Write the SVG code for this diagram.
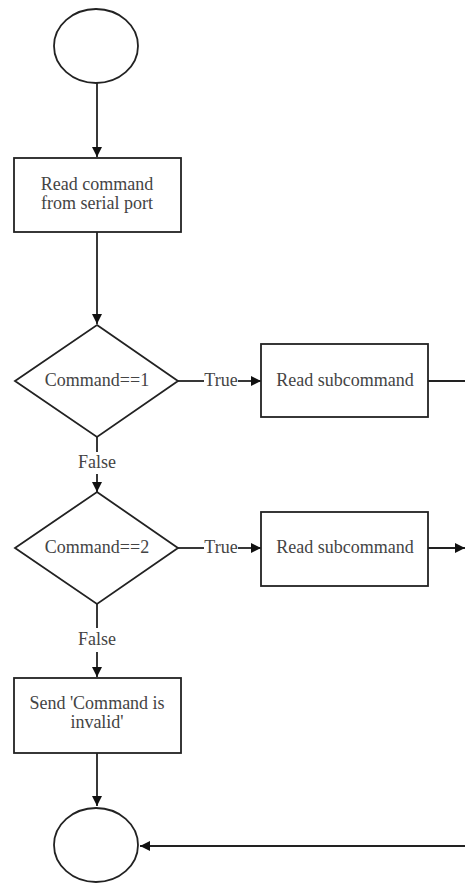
<svg xmlns="http://www.w3.org/2000/svg" width="465" height="883" viewBox="0 0 465 883">
  <defs>
    <marker id="arrow" markerWidth="10" markerHeight="10" refX="10" refY="5" orient="auto" markerUnits="userSpaceOnUse">
      <path d="M0,0 L10,5 L0,10 Z" fill="#111"/>
    </marker>
    <style>
      .shape { fill: #fff; stroke: #222; stroke-width: 1.8; }
      .edge { fill: none; stroke: #222; stroke-width: 1.8; marker-end: url(#arrow); }
      .line { fill: none; stroke: #222; stroke-width: 1.8; }
      .label { font-family: 'Liberation Serif', 'Times New Roman', 'DejaVu Serif', serif; font-size: 18px; fill: #444; text-anchor: middle; }
    </style>
  </defs>
  <rect width="465" height="883" fill="#fff"/>

  <!-- connectors -->
  <g id="connectors">
    <line class="edge" x1="97" y1="83" x2="97" y2="157"/>
    <line class="edge" x1="97" y1="232" x2="97" y2="324"/>
    <!-- Command==1 true branch -->
    <line class="line" x1="178" y1="381" x2="204" y2="381"/>
    <line class="edge" x1="238" y1="381" x2="261" y2="381"/>
    <text class="label" x="221" y="386">True</text>
    <line class="line" x1="428" y1="381" x2="465" y2="381"/>
    <!-- Command==1 false branch -->
    <line class="line" x1="97" y1="437" x2="97" y2="452"/>
    <text class="label" x="97" y="468">False</text>
    <line class="edge" x1="97" y1="474" x2="97" y2="492"/>
    <!-- Command==2 true branch -->
    <line class="line" x1="178" y1="548" x2="204" y2="548"/>
    <line class="edge" x1="238" y1="548" x2="261" y2="548"/>
    <text class="label" x="221" y="553">True</text>
    <line class="edge" x1="428" y1="548" x2="465" y2="548"/>
    <!-- Command==2 false branch -->
    <line class="line" x1="97" y1="604" x2="97" y2="628"/>
    <text class="label" x="97" y="645">False</text>
    <line class="edge" x1="97" y1="652" x2="97" y2="677"/>
    <!-- to end -->
    <line class="edge" x1="97" y1="753" x2="97" y2="806"/>
    <line class="edge" x1="465" y1="846" x2="140" y2="846"/>
  </g>

  <g id="start">
    <ellipse class="shape" cx="96" cy="46" rx="42" ry="37"/>
  </g>

  <g id="read-command">
    <rect class="shape" x="14" y="158" width="167" height="74"/>
    <text class="label" x="97" y="190">Read command</text>
    <text class="label" x="97" y="209">from serial port</text>
  </g>

  <g id="check-1">
    <polygon class="shape" points="97,325 178,381 97,437 15,381"/>
    <text class="label" x="97" y="386">Command==1</text>
  </g>

  <g id="read-sub-1">
    <rect class="shape" x="261" y="344" width="167" height="73"/>
    <text class="label" x="345" y="386">Read subcommand</text>
  </g>

  <g id="check-2">
    <polygon class="shape" points="97,492 178,548 97,604 15,548"/>
    <text class="label" x="97" y="553">Command==2</text>
  </g>

  <g id="read-sub-2">
    <rect class="shape" x="261" y="512" width="167" height="74"/>
    <text class="label" x="345" y="553">Read subcommand</text>
  </g>

  <g id="invalid">
    <rect class="shape" x="14" y="678" width="167" height="75"/>
    <text class="label" x="97" y="709">Send 'Command is</text>
    <text class="label" x="97" y="728">invalid'</text>
  </g>

  <g id="end">
    <ellipse class="shape" cx="96" cy="845" rx="42" ry="37"/>
  </g>
</svg>
